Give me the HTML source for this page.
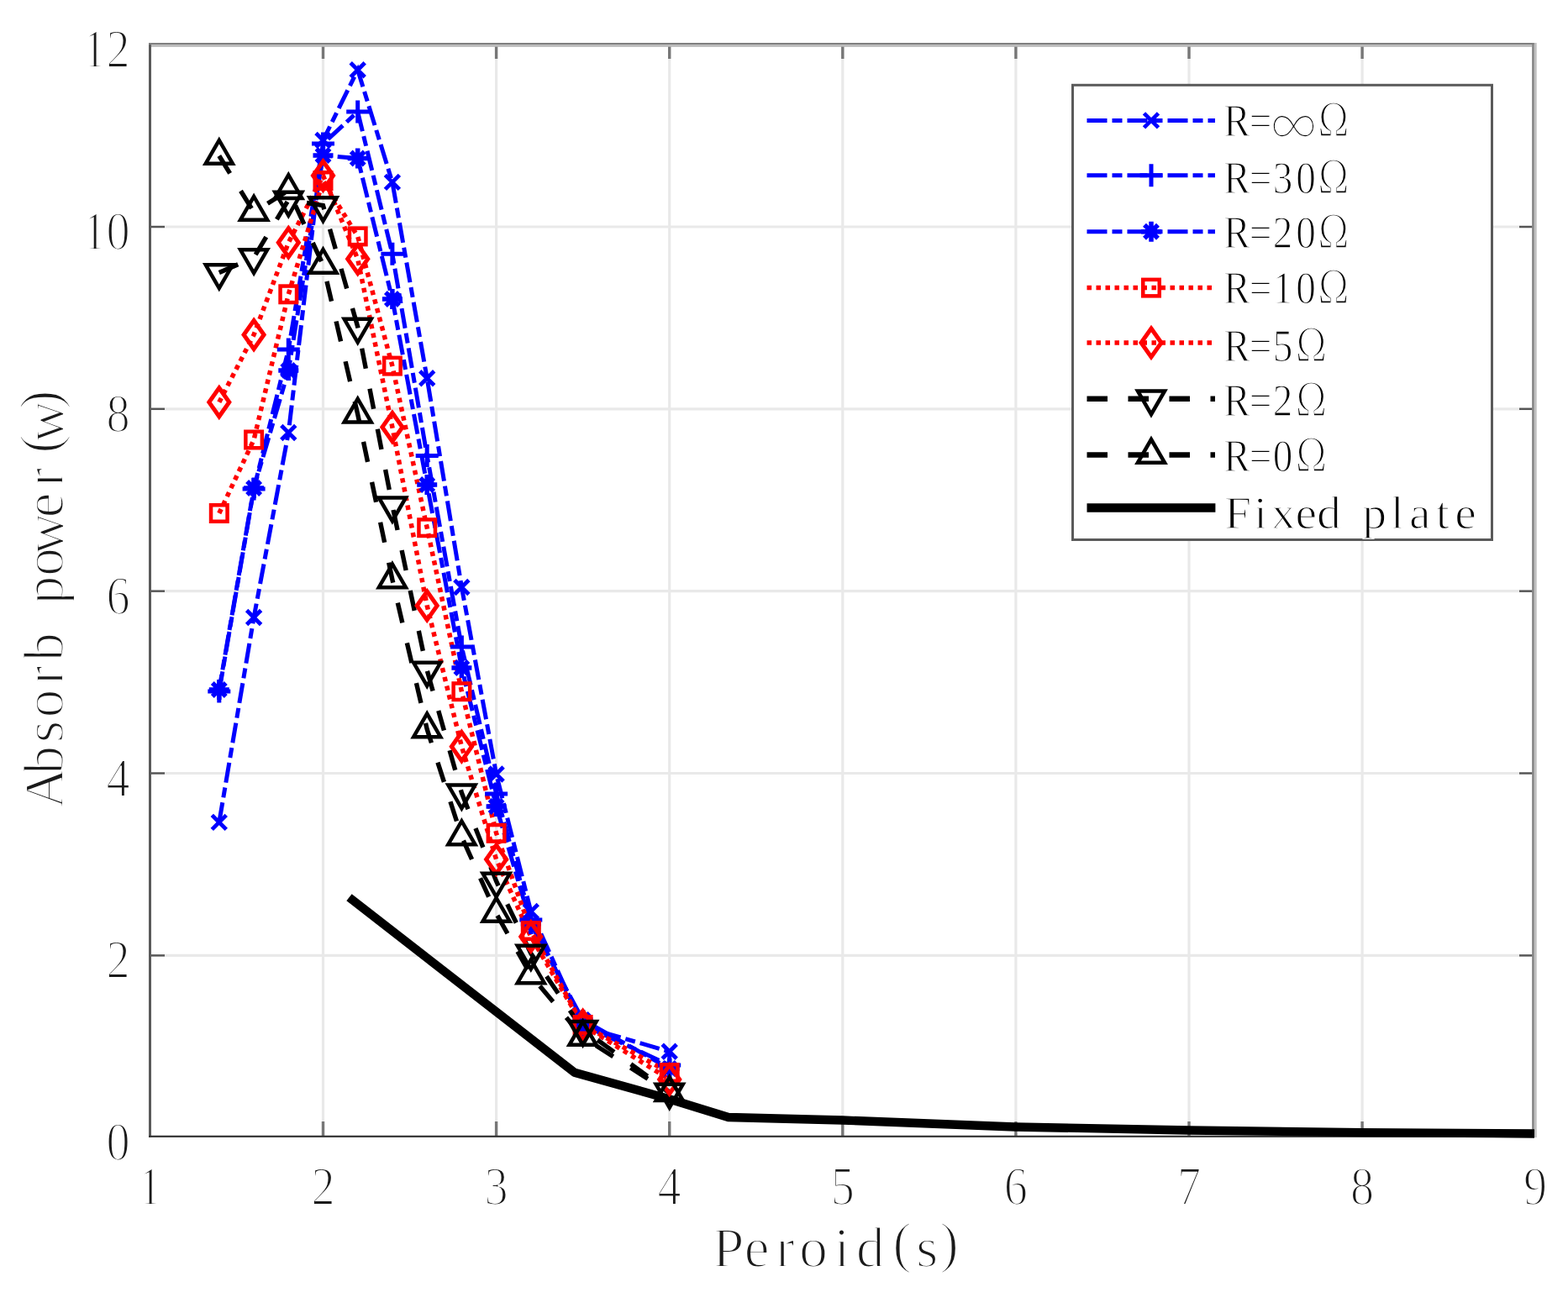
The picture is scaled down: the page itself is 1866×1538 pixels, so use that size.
<!DOCTYPE html>
<html><head><meta charset="utf-8"><title>Absorb power vs Peroid</title>
<style>html,body{margin:0;padding:0;background:#fff;overflow:hidden}svg{display:block}
text{font-family:"Liberation Serif","Noto Serif CJK SC",serif}</style></head>
<body>
<svg width="1866" height="1538" viewBox="0 0 1866 1538">
<rect width="1866" height="1538" fill="#fff"/>
<g stroke="#e9e9e9" stroke-width="3.2" fill="none">
<line x1="384.5" y1="55" x2="384.5" y2="1352"/>
<line x1="590.6" y1="55" x2="590.6" y2="1352"/>
<line x1="796.7" y1="55" x2="796.7" y2="1352"/>
<line x1="1002.8" y1="55" x2="1002.8" y2="1352"/>
<line x1="1208.9" y1="55" x2="1208.9" y2="1352"/>
<line x1="1415.0" y1="55" x2="1415.0" y2="1352"/>
<line x1="1621.1" y1="55" x2="1621.1" y2="1352"/>
<line x1="180" y1="1137.4" x2="1824" y2="1137.4"/>
<line x1="180" y1="920.5" x2="1824" y2="920.5"/>
<line x1="180" y1="703.7" x2="1824" y2="703.7"/>
<line x1="180" y1="486.8" x2="1824" y2="486.8"/>
<line x1="180" y1="270.0" x2="1824" y2="270.0"/>
</g>
<g fill="none">
<line x1="384.5" y1="1352" x2="384.5" y2="1335" stroke="#777" stroke-width="3.4"/>
<line x1="384.5" y1="55" x2="384.5" y2="70" stroke="#777" stroke-width="3.4"/>
<line x1="590.6" y1="1352" x2="590.6" y2="1335" stroke="#777" stroke-width="3.4"/>
<line x1="590.6" y1="55" x2="590.6" y2="70" stroke="#777" stroke-width="3.4"/>
<line x1="796.7" y1="1352" x2="796.7" y2="1335" stroke="#777" stroke-width="3.4"/>
<line x1="796.7" y1="55" x2="796.7" y2="70" stroke="#777" stroke-width="3.4"/>
<line x1="1002.8" y1="1352" x2="1002.8" y2="1335" stroke="#777" stroke-width="3.4"/>
<line x1="1002.8" y1="55" x2="1002.8" y2="70" stroke="#777" stroke-width="3.4"/>
<line x1="1208.9" y1="1352" x2="1208.9" y2="1335" stroke="#777" stroke-width="3.4"/>
<line x1="1208.9" y1="55" x2="1208.9" y2="70" stroke="#777" stroke-width="3.4"/>
<line x1="1415.0" y1="1352" x2="1415.0" y2="1335" stroke="#777" stroke-width="3.4"/>
<line x1="1415.0" y1="55" x2="1415.0" y2="70" stroke="#777" stroke-width="3.4"/>
<line x1="1621.1" y1="1352" x2="1621.1" y2="1335" stroke="#777" stroke-width="3.4"/>
<line x1="1621.1" y1="55" x2="1621.1" y2="70" stroke="#777" stroke-width="3.4"/>
<line x1="180" y1="1137.4" x2="196" y2="1137.4" stroke="#555" stroke-width="2.4"/>
<line x1="1823.5" y1="1137.4" x2="1808" y2="1137.4" stroke="#555" stroke-width="2.4"/>
<line x1="180" y1="920.5" x2="196" y2="920.5" stroke="#555" stroke-width="2.4"/>
<line x1="1823.5" y1="920.5" x2="1808" y2="920.5" stroke="#555" stroke-width="2.4"/>
<line x1="180" y1="703.7" x2="196" y2="703.7" stroke="#555" stroke-width="2.4"/>
<line x1="1823.5" y1="703.7" x2="1808" y2="703.7" stroke="#555" stroke-width="2.4"/>
<line x1="180" y1="486.8" x2="196" y2="486.8" stroke="#555" stroke-width="2.4"/>
<line x1="1823.5" y1="486.8" x2="1808" y2="486.8" stroke="#555" stroke-width="2.4"/>
<line x1="180" y1="270.0" x2="196" y2="270.0" stroke="#555" stroke-width="2.4"/>
<line x1="1823.5" y1="270.0" x2="1808" y2="270.0" stroke="#555" stroke-width="2.4"/>
</g>
<rect x="177" y="51" width="3" height="1303" fill="#5a5a5a"/>
<rect x="177" y="1351.7" width="1651" height="2.2" fill="#333"/>
<rect x="177" y="51" width="1651" height="2.3" fill="#7f7f7f"/>
<rect x="180" y="53.3" width="1643" height="2.5" fill="#b8b8b8"/>
<rect x="1823.2" y="51" width="2.6" height="1303" fill="#808080"/>
<rect x="1825.8" y="51" width="2.9" height="1303" fill="#c0c0c0"/>
<polyline points="260.8,978.9 302.1,735.0 343.3,515.0 384.5,167.0 425.7,83.2 466.9,216.9 508.2,450.3 549.4,699.0 590.6,921.5 631.8,1085.0 693.6,1222.0 796.7,1251.8" fill="none" stroke="#0000ff" stroke-width="5" stroke-dasharray="24 6 12 6"/>
<polyline points="260.8,823.0 302.1,582.0 343.3,416.0 384.5,171.0 425.7,133.0 466.9,302.3 508.2,542.4 549.4,770.0 590.6,945.0 631.8,1095.0 693.6,1220.0 796.7,1268.0" fill="none" stroke="#0000ff" stroke-width="5" stroke-dasharray="24 6 12 6"/>
<polyline points="260.8,821.0 302.1,581.0 343.3,441.0 384.5,185.0 425.7,188.5 466.9,356.0 508.2,577.0 549.4,795.0 590.6,960.0 631.8,1100.0 693.6,1214.0 796.7,1272.0" fill="none" stroke="#0000ff" stroke-width="5" stroke-dasharray="24 6 12 6" stroke-dashoffset="6"/>
<polyline points="260.8,611.0 302.1,523.5 343.3,350.3 384.5,215.0 425.7,281.4 466.9,435.6 508.2,628.2 549.4,823.2 590.6,991.8 631.8,1108.0 693.6,1220.0 796.7,1277.0" fill="none" stroke="#ff0000" stroke-width="5.5" stroke-dasharray="5.5 5.5"/>
<polyline points="260.8,478.8 302.1,398.5 343.3,288.8 384.5,209.0 425.7,308.3 466.9,508.5 508.2,721.0 549.4,888.7 590.6,1023.0 631.8,1115.0 693.6,1220.5 796.7,1285.0" fill="none" stroke="#ff0000" stroke-width="5.5" stroke-dasharray="5.5 5.5"/>
<polyline points="260.8,324.5 302.1,306.5 343.3,238.0 384.5,244.6 425.7,389.0 466.9,601.7 508.2,798.0 549.4,943.8 590.6,1049.0 631.8,1135.0 693.6,1225.3 796.7,1300.0" fill="none" stroke="#000000" stroke-width="5.4" stroke-dasharray="24.5 24.5"/>
<polyline points="260.8,185.5 302.1,252.5 343.3,226.7 384.5,315.5 425.7,493.2 466.9,690.0 508.2,868.0 549.4,996.0 590.6,1087.5 631.8,1161.0 693.6,1234.6 796.7,1300.8" fill="none" stroke="#000000" stroke-width="5.4" stroke-dasharray="24.5 24.5"/>
<polyline points="415.5,1068.3 683.7,1276.7 795.5,1308 866.8,1330 1002.9,1333.5 1208,1341.5 1415,1345.5 1620,1348.2 1826,1349.5" fill="none" stroke="#000" stroke-width="10.3" stroke-linejoin="round"/>
<g><path d="M252.3,970.4L269.3,987.4M252.3,987.4L269.3,970.4" stroke="#0000ff" stroke-width="4.8" fill="none"/><path d="M293.6,726.5L310.6,743.5M293.6,743.5L310.6,726.5" stroke="#0000ff" stroke-width="4.8" fill="none"/><path d="M334.8,506.5L351.8,523.5M334.8,523.5L351.8,506.5" stroke="#0000ff" stroke-width="4.8" fill="none"/><path d="M376.0,158.5L393.0,175.5M376.0,175.5L393.0,158.5" stroke="#0000ff" stroke-width="4.8" fill="none"/><path d="M417.2,74.7L434.2,91.7M417.2,91.7L434.2,74.7" stroke="#0000ff" stroke-width="4.8" fill="none"/><path d="M458.4,208.4L475.4,225.4M458.4,225.4L475.4,208.4" stroke="#0000ff" stroke-width="4.8" fill="none"/><path d="M499.7,441.8L516.7,458.8M499.7,458.8L516.7,441.8" stroke="#0000ff" stroke-width="4.8" fill="none"/><path d="M540.9,690.5L557.9,707.5M540.9,707.5L557.9,690.5" stroke="#0000ff" stroke-width="4.8" fill="none"/><path d="M582.1,913.0L599.1,930.0M582.1,930.0L599.1,913.0" stroke="#0000ff" stroke-width="4.8" fill="none"/><path d="M623.3,1076.5L640.3,1093.5M623.3,1093.5L640.3,1076.5" stroke="#0000ff" stroke-width="4.8" fill="none"/><path d="M685.1,1213.5L702.1,1230.5M685.1,1230.5L702.1,1213.5" stroke="#0000ff" stroke-width="4.8" fill="none"/><path d="M788.2,1243.3L805.2,1260.3M788.2,1260.3L805.2,1243.3" stroke="#0000ff" stroke-width="4.8" fill="none"/></g>
<g><path d="M247.3,823H274.3M260.8,809.5V836.5" stroke="#0000ff" stroke-width="5" fill="none"/><path d="M288.6,582H315.6M302.1,568.5V595.5" stroke="#0000ff" stroke-width="5" fill="none"/><path d="M329.8,416H356.8M343.3,402.5V429.5" stroke="#0000ff" stroke-width="5" fill="none"/><path d="M371.0,171H398.0M384.5,157.5V184.5" stroke="#0000ff" stroke-width="5" fill="none"/><path d="M412.2,133H439.2M425.7,119.5V146.5" stroke="#0000ff" stroke-width="5" fill="none"/><path d="M453.4,302.3H480.4M466.9,288.8V315.8" stroke="#0000ff" stroke-width="5" fill="none"/><path d="M494.7,542.4H521.7M508.2,528.9V555.9" stroke="#0000ff" stroke-width="5" fill="none"/><path d="M535.9,770H562.9M549.4,756.5V783.5" stroke="#0000ff" stroke-width="5" fill="none"/><path d="M577.1,945H604.1M590.6,931.5V958.5" stroke="#0000ff" stroke-width="5" fill="none"/><path d="M618.3,1095H645.3M631.8,1081.5V1108.5" stroke="#0000ff" stroke-width="5" fill="none"/><path d="M680.1,1220H707.1M693.6,1206.5V1233.5" stroke="#0000ff" stroke-width="5" fill="none"/><path d="M783.2,1268H810.2M796.7,1254.5V1281.5" stroke="#0000ff" stroke-width="5" fill="none"/></g>
<g><path d="M248.8,821H272.8M260.8,809V833M252.8,813L268.8,829M252.8,829L268.8,813" stroke="#0000ff" stroke-width="5.5" fill="none"/><path d="M290.1,581H314.1M302.1,569V593M294.1,573L310.1,589M294.1,589L310.1,573" stroke="#0000ff" stroke-width="5.5" fill="none"/><path d="M331.3,441H355.3M343.3,429V453M335.3,433L351.3,449M335.3,449L351.3,433" stroke="#0000ff" stroke-width="5.5" fill="none"/><path d="M372.5,185H396.5M384.5,173V197M376.5,177L392.5,193M376.5,193L392.5,177" stroke="#0000ff" stroke-width="5.5" fill="none"/><path d="M413.7,188.5H437.7M425.7,176.5V200.5M417.7,180.5L433.7,196.5M417.7,196.5L433.7,180.5" stroke="#0000ff" stroke-width="5.5" fill="none"/><path d="M454.9,356H478.9M466.9,344V368M458.9,348L474.9,364M458.9,364L474.9,348" stroke="#0000ff" stroke-width="5.5" fill="none"/><path d="M496.2,577H520.2M508.2,565V589M500.2,569L516.2,585M500.2,585L516.2,569" stroke="#0000ff" stroke-width="5.5" fill="none"/><path d="M537.4,795H561.4M549.4,783V807M541.4,787L557.4,803M541.4,803L557.4,787" stroke="#0000ff" stroke-width="5.5" fill="none"/><path d="M578.6,960H602.6M590.6,948V972M582.6,952L598.6,968M582.6,968L598.6,952" stroke="#0000ff" stroke-width="5.5" fill="none"/><path d="M619.8,1100H643.8M631.8,1088V1112M623.8,1092L639.8,1108M623.8,1108L639.8,1092" stroke="#0000ff" stroke-width="5.5" fill="none"/><path d="M681.6,1214H705.6M693.6,1202V1226M685.6,1206L701.6,1222M685.6,1222L701.6,1206" stroke="#0000ff" stroke-width="5.5" fill="none"/><path d="M784.7,1272H808.7M796.7,1260V1284M788.7,1264L804.7,1280M788.7,1280L804.7,1264" stroke="#0000ff" stroke-width="5.5" fill="none"/></g>
<g><rect x="251.05" y="601.25" width="19.5" height="19.5" stroke="#ff0000" stroke-width="4.5" fill="none"/><rect x="292.35" y="513.75" width="19.5" height="19.5" stroke="#ff0000" stroke-width="4.5" fill="none"/><rect x="333.55" y="340.55" width="19.5" height="19.5" stroke="#ff0000" stroke-width="4.5" fill="none"/><rect x="374.75" y="205.25" width="19.5" height="19.5" stroke="#ff0000" stroke-width="4.5" fill="none"/><rect x="415.95" y="271.65" width="19.5" height="19.5" stroke="#ff0000" stroke-width="4.5" fill="none"/><rect x="457.15" y="425.85" width="19.5" height="19.5" stroke="#ff0000" stroke-width="4.5" fill="none"/><rect x="498.45" y="618.45" width="19.5" height="19.5" stroke="#ff0000" stroke-width="4.5" fill="none"/><rect x="539.65" y="813.45" width="19.5" height="19.5" stroke="#ff0000" stroke-width="4.5" fill="none"/><rect x="580.85" y="982.05" width="19.5" height="19.5" stroke="#ff0000" stroke-width="4.5" fill="none"/><rect x="622.05" y="1098.25" width="19.5" height="19.5" stroke="#ff0000" stroke-width="4.5" fill="none"/><rect x="683.85" y="1210.25" width="19.5" height="19.5" stroke="#ff0000" stroke-width="4.5" fill="none"/><rect x="786.95" y="1267.25" width="19.5" height="19.5" stroke="#ff0000" stroke-width="4.5" fill="none"/></g>
<g><path d="M260.8,461.8L272.8,478.8L260.8,495.8L248.8,478.8Z" stroke="#ff0000" stroke-width="5" fill="none"/><path d="M302.1,381.5L314.1,398.5L302.1,415.5L290.1,398.5Z" stroke="#ff0000" stroke-width="5" fill="none"/><path d="M343.3,271.8L355.3,288.8L343.3,305.8L331.3,288.8Z" stroke="#ff0000" stroke-width="5" fill="none"/><path d="M384.5,192L396.5,209L384.5,226L372.5,209Z" stroke="#ff0000" stroke-width="5" fill="none"/><path d="M425.7,291.3L437.7,308.3L425.7,325.3L413.7,308.3Z" stroke="#ff0000" stroke-width="5" fill="none"/><path d="M466.9,491.5L478.9,508.5L466.9,525.5L454.9,508.5Z" stroke="#ff0000" stroke-width="5" fill="none"/><path d="M508.2,704L520.2,721L508.2,738L496.2,721Z" stroke="#ff0000" stroke-width="5" fill="none"/><path d="M549.4,871.7L561.4,888.7L549.4,905.7L537.4,888.7Z" stroke="#ff0000" stroke-width="5" fill="none"/><path d="M590.6,1006L602.6,1023L590.6,1040L578.6,1023Z" stroke="#ff0000" stroke-width="5" fill="none"/><path d="M631.8,1098L643.8,1115L631.8,1132L619.8,1115Z" stroke="#ff0000" stroke-width="5" fill="none"/><path d="M693.6,1203.5L705.6,1220.5L693.6,1237.5L681.6,1220.5Z" stroke="#ff0000" stroke-width="5" fill="none"/><path d="M796.7,1268L808.7,1285L796.7,1302L784.7,1285Z" stroke="#ff0000" stroke-width="5" fill="none"/></g>
<g><path d="M244.78,315.25H276.82L260.8,343.00Z" stroke="#000000" stroke-width="4.5" fill="none" stroke-linejoin="miter"/><path d="M286.08,297.25H318.12L302.1,325.00Z" stroke="#000000" stroke-width="4.5" fill="none" stroke-linejoin="miter"/><path d="M327.28,228.75H359.32L343.3,256.50Z" stroke="#000000" stroke-width="4.5" fill="none" stroke-linejoin="miter"/><path d="M368.48,235.35H400.52L384.5,263.10Z" stroke="#000000" stroke-width="4.5" fill="none" stroke-linejoin="miter"/><path d="M409.68,379.75H441.72L425.7,407.50Z" stroke="#000000" stroke-width="4.5" fill="none" stroke-linejoin="miter"/><path d="M450.88,592.45H482.92L466.9,620.20Z" stroke="#000000" stroke-width="4.5" fill="none" stroke-linejoin="miter"/><path d="M492.18,788.75H524.22L508.2,816.50Z" stroke="#000000" stroke-width="4.5" fill="none" stroke-linejoin="miter"/><path d="M533.38,934.55H565.42L549.4,962.30Z" stroke="#000000" stroke-width="4.5" fill="none" stroke-linejoin="miter"/><path d="M574.58,1039.75H606.62L590.6,1067.50Z" stroke="#000000" stroke-width="4.5" fill="none" stroke-linejoin="miter"/><path d="M615.78,1125.75H647.82L631.8,1153.50Z" stroke="#000000" stroke-width="4.5" fill="none" stroke-linejoin="miter"/><path d="M677.58,1216.05H709.62L693.6,1243.80Z" stroke="#000000" stroke-width="4.5" fill="none" stroke-linejoin="miter"/><path d="M780.68,1290.75H812.72L796.7,1318.50Z" stroke="#000000" stroke-width="4.5" fill="none" stroke-linejoin="miter"/></g>
<g><path d="M244.78,194.75H276.82L260.8,167.00Z" stroke="#000000" stroke-width="4.5" fill="none" stroke-linejoin="miter"/><path d="M286.08,261.75H318.12L302.1,234.00Z" stroke="#000000" stroke-width="4.5" fill="none" stroke-linejoin="miter"/><path d="M327.28,235.95H359.32L343.3,208.20Z" stroke="#000000" stroke-width="4.5" fill="none" stroke-linejoin="miter"/><path d="M368.48,324.75H400.52L384.5,297.00Z" stroke="#000000" stroke-width="4.5" fill="none" stroke-linejoin="miter"/><path d="M409.68,502.45H441.72L425.7,474.70Z" stroke="#000000" stroke-width="4.5" fill="none" stroke-linejoin="miter"/><path d="M450.88,699.25H482.92L466.9,671.50Z" stroke="#000000" stroke-width="4.5" fill="none" stroke-linejoin="miter"/><path d="M492.18,877.25H524.22L508.2,849.50Z" stroke="#000000" stroke-width="4.5" fill="none" stroke-linejoin="miter"/><path d="M533.38,1005.25H565.42L549.4,977.50Z" stroke="#000000" stroke-width="4.5" fill="none" stroke-linejoin="miter"/><path d="M574.58,1096.75H606.62L590.6,1069.00Z" stroke="#000000" stroke-width="4.5" fill="none" stroke-linejoin="miter"/><path d="M615.78,1170.25H647.82L631.8,1142.50Z" stroke="#000000" stroke-width="4.5" fill="none" stroke-linejoin="miter"/><path d="M677.58,1243.85H709.62L693.6,1216.10Z" stroke="#000000" stroke-width="4.5" fill="none" stroke-linejoin="miter"/><path d="M780.68,1310.05H812.72L796.7,1282.30Z" stroke="#000000" stroke-width="4.5" fill="none" stroke-linejoin="miter"/></g>
<g font-size="65.5" fill="#1a1a1a" stroke="#fff" stroke-width="2.1">
<text transform="translate(178.4,1433.5) scale(0.86,1)" text-anchor="middle">1</text>
<text transform="translate(384.5,1433.5) scale(0.86,1)" text-anchor="middle">2</text>
<text transform="translate(590.6,1433.5) scale(0.86,1)" text-anchor="middle">3</text>
<text transform="translate(796.7,1433.5) scale(0.86,1)" text-anchor="middle">4</text>
<text transform="translate(1002.8,1433.5) scale(0.86,1)" text-anchor="middle">5</text>
<text transform="translate(1208.9,1433.5) scale(0.86,1)" text-anchor="middle">6</text>
<text transform="translate(1415.0,1433.5) scale(0.86,1)" text-anchor="middle">7</text>
<text transform="translate(1621.1,1433.5) scale(0.86,1)" text-anchor="middle">8</text>
<text transform="translate(1827.2,1433.5) scale(0.86,1)" text-anchor="middle">9</text>
<text transform="translate(154.6,1381.2) scale(0.86,1)" text-anchor="end">0</text>
<text transform="translate(154.6,1164.4) scale(0.86,1)" text-anchor="end">2</text>
<text transform="translate(154.6,947.5) scale(0.86,1)" text-anchor="end">4</text>
<text transform="translate(154.6,730.7) scale(0.86,1)" text-anchor="end">6</text>
<text transform="translate(154.6,513.8) scale(0.86,1)" text-anchor="end">8</text>
<text transform="translate(154.6,297.0) scale(0.86,1)" text-anchor="end">10</text>
<text transform="translate(154.6,80.2) scale(0.86,1)" text-anchor="end">12</text>
</g>
<text font-size="68" fill="#1a1a1a" stroke="#fff" stroke-width="2.1" transform="translate(0,1508) scale(1.0,1)" x="866.7 900.5 934.3 968.1 1001.9 1035.7 1073.5 1103.3 1129.7" y="0 0 0 0 0 0 -6 0 -6" text-anchor="middle">Peroid(s)</text>
<text font-size="68" fill="#1a1a1a" stroke="#fff" stroke-width="2.1" transform="translate(75.1,0) rotate(-90) scale(1.0,1)" x="-938.5 -904.8 -871.1 -837.4 -803.7 -770.0 -736.3 -702.6 -668.9 -635.2 -601.5 -567.8 -528.5 -501.7 -475.7" y="0 0 0 0 0 0 0 0 0 0 0 0 -5 0 -5" text-anchor="middle">Absorb power(w)</text>
<rect x="1276.5" y="101.3" width="499" height="541.2" fill="#fff" stroke="#5a5a5a" stroke-width="3"/>
<line x1="1293.5" y1="143.4" x2="1446" y2="143.4" stroke="#0000ff" stroke-width="5" stroke-dasharray="24 6 12 6"/>
<path d="M1361.5,134.9L1378.5,151.9M1361.5,151.9L1378.5,134.9" stroke="#0000ff" stroke-width="4.8" fill="none"/>
<text font-size="55" fill="#000" stroke="#fff" stroke-width="1.4" transform="translate(0,162.4) scale(0.86,1)" x="1711.6 1744.2 1790.1 1845.3" y="0" text-anchor="middle">R=<tspan font-family="'Noto Serif CJK SC', 'Liberation Serif', serif" font-weight="300" font-size="61" dy="11">∞</tspan><tspan font-family="'Noto Serif CJK SC', 'Liberation Serif', serif" font-weight="300" font-size="54" dy="-11">Ω</tspan></text>
<line x1="1293.5" y1="208.7" x2="1446" y2="208.7" stroke="#0000ff" stroke-width="5" stroke-dasharray="24 6 12 6"/>
<path d="M1356.5,208.7H1383.5M1370,195.2V222.2" stroke="#0000ff" stroke-width="5" fill="none"/>
<text font-size="55" fill="#000" stroke="#fff" stroke-width="1.4" transform="translate(0,230.2) scale(0.86,1)" x="1711.6 1744.2 1775.0 1807.0 1845.3" y="0" text-anchor="middle">R=30<tspan font-family="'Noto Serif CJK SC', 'Liberation Serif', serif" font-weight="300" font-size="54">Ω</tspan></text>
<line x1="1293.5" y1="275.8" x2="1446" y2="275.8" stroke="#0000ff" stroke-width="5" stroke-dasharray="24 6 12 6"/>
<path d="M1358,275.8H1382M1370,263.8V287.8M1362,267.8L1378,283.8M1362,283.8L1378,267.8" stroke="#0000ff" stroke-width="5.5" fill="none"/>
<text font-size="55" fill="#000" stroke="#fff" stroke-width="1.4" transform="translate(0,295.1) scale(0.86,1)" x="1711.6 1744.2 1775.0 1807.0 1845.3" y="0" text-anchor="middle">R=20<tspan font-family="'Noto Serif CJK SC', 'Liberation Serif', serif" font-weight="300" font-size="54">Ω</tspan></text>
<line x1="1293.5" y1="342.6" x2="1446" y2="342.6" stroke="#ff0000" stroke-width="5.5" stroke-dasharray="5.5 5.5"/>
<rect x="1360.25" y="332.85" width="19.5" height="19.5" stroke="#ff0000" stroke-width="4.5" fill="none"/>
<text font-size="55" fill="#000" stroke="#fff" stroke-width="1.4" transform="translate(0,361.3) scale(0.86,1)" x="1711.6 1744.2 1775.0 1807.0 1845.3" y="0" text-anchor="middle">R=10<tspan font-family="'Noto Serif CJK SC', 'Liberation Serif', serif" font-weight="300" font-size="54">Ω</tspan></text>
<line x1="1293.5" y1="408" x2="1446" y2="408" stroke="#ff0000" stroke-width="5.5" stroke-dasharray="5.5 5.5"/>
<path d="M1370,391L1382,408L1370,425L1358,408Z" stroke="#ff0000" stroke-width="5" fill="none"/>
<text font-size="55" fill="#000" stroke="#fff" stroke-width="1.4" transform="translate(0,429.7) scale(0.86,1)" x="1711.6 1744.2 1775.0 1814.5" y="0" text-anchor="middle">R=5<tspan font-family="'Noto Serif CJK SC', 'Liberation Serif', serif" font-weight="300" font-size="54">Ω</tspan></text>
<line x1="1293.5" y1="474.7" x2="1446" y2="474.7" stroke="#000000" stroke-width="6.5" stroke-dasharray="24.5 24.5"/>
<path d="M1353.98,465.45H1386.02L1370,493.20Z" stroke="#000000" stroke-width="4.5" fill="none" stroke-linejoin="miter"/>
<text font-size="55" fill="#000" stroke="#fff" stroke-width="1.4" transform="translate(0,495) scale(0.86,1)" x="1711.6 1744.2 1775.0 1814.5" y="0" text-anchor="middle">R=2<tspan font-family="'Noto Serif CJK SC', 'Liberation Serif', serif" font-weight="300" font-size="54">Ω</tspan></text>
<line x1="1293.5" y1="541.6" x2="1446" y2="541.6" stroke="#000000" stroke-width="6.5" stroke-dasharray="24.5 24.5"/>
<path d="M1353.98,550.85H1386.02L1370,523.10Z" stroke="#000000" stroke-width="4.5" fill="none" stroke-linejoin="miter"/>
<text font-size="55" fill="#000" stroke="#fff" stroke-width="1.4" transform="translate(0,561) scale(0.86,1)" x="1711.6 1744.2 1775.0 1814.5" y="0" text-anchor="middle">R=0<tspan font-family="'Noto Serif CJK SC', 'Liberation Serif', serif" font-weight="300" font-size="54">Ω</tspan></text>
<line x1="1293.5" y1="604.4" x2="1446.4" y2="604.4" stroke="#000" stroke-width="10.5"/>
<text font-size="55" fill="#000" stroke="#fff" stroke-width="1.4" transform="translate(0,628.5) scale(1.05,1)" x="1402.9 1428.7 1454.5 1480.3 1506.1 1531.9 1557.7 1583.5 1609.3 1635.1 1661.0" y="0" text-anchor="middle">Fixed plate</text>
</svg></body></html>
